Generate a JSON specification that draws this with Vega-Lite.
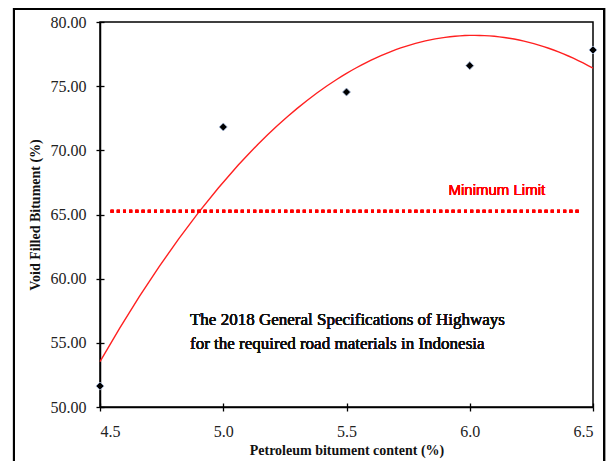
{
  "$schema": "https://vega.github.io/schema/vega-lite/v6.json",
  "width": 493,
  "height": 385,
  "autosize": {"type": "none"},
  "padding": {"left": 100, "top": 22, "right": 15, "bottom": 54},
  "background": "white",
  "config": {
    "view": {"stroke": "black", "strokeWidth": 1.5},
    "text": {"fontWeight": "normal"},
    "axis": {"grid": false, "domainColor": "black", "domainWidth": 1.5, "tickColor": "black", "tickWidth": 1.3,
      "labelFont": "Liberation Serif", "labelFontSize": 16, "labelColor": "#222", "labelFontWeight": "normal",
      "titleFont": "Liberation Serif", "titleFontWeight": "bold", "titleFontSize": 14, "titleColor": "#111"}
  },
  "data": {"values": [
    {"pbc": 4.5, "vfb": 51.63},
    {"pbc": 5.0, "vfb": 71.82},
    {"pbc": 5.5, "vfb": 74.54},
    {"pbc": 6.0, "vfb": 76.6},
    {"pbc": 6.5, "vfb": 77.82}
  ]},
  "resolve": {"axis": {"x": "independent", "y": "independent"}},
  "layer": [
    {
      "mark": {"type": "rect", "fill": null, "stroke": "black", "strokeWidth": 2, "clip": false},
      "encoding": {
        "x": {"datum": 4.151, "type": "quantitative", "scale": {"domain": [4.5, 6.5], "nice": false, "zero": false}, "axis": null},
        "x2": {"datum": 6.545},
        "y": {"datum": 81.01, "type": "quantitative", "scale": {"domain": [50, 80], "nice": false, "zero": false}, "axis": null},
        "y2": {"datum": 44}
      }
    },
    {
      "transform": [{"regression": "vfb", "on": "pbc", "method": "poly", "order": 2}],
      "mark": {"type": "line", "color": "#ff2020", "strokeWidth": 1.4},
      "encoding": {
        "x": {"field": "pbc", "type": "quantitative", "scale": {"domain": [4.5, 6.5], "nice": false, "zero": false},
          "axis": {"orient": "bottom", "values": [4.5, 5, 5.5, 6, 6.5], "labels": false, "domain": false, "title": null, "tickSize": -4}},
        "y": {"field": "vfb", "type": "quantitative", "scale": {"domain": [50, 80], "nice": false, "zero": false},
          "axis": {"orient": "left", "values": [50, 55, 60, 65, 70, 75, 80], "labels": false, "domain": false, "title": null, "tickSize": -4}}
      }
    },
    {
      "mark": {"type": "rule", "color": "#ff0000", "strokeWidth": 3, "strokeDash": [3, 3.2], "strokeCap": "butt"},
      "encoding": {
        "x": {"datum": 4.543, "type": "quantitative", "axis": null},
        "x2": {"datum": 6.447},
        "y": {"datum": 65.25, "type": "quantitative", "axis": null}
      }
    },
    {
      "mark": {"type": "point", "shape": "diamond", "filled": true, "color": "black", "size": 65, "opacity": 1, "stroke": "#a8bde0", "strokeWidth": 0.8},
      "encoding": {
        "x": {"field": "pbc", "type": "quantitative",
          "axis": {"orient": "bottom", "values": [4.5, 5, 5.5, 6, 6.5], "format": ".1f", "tickSize": 4, "labelPadding": 12, "titlePadding": 4,
            "labelFont": "Liberation Serif", "labelFontSize": 16, "titleFont": "Liberation Serif",
            "title": "Petroleum  bitument  content  (%)"}},
        "y": {"field": "vfb", "type": "quantitative",
          "axis": {"orient": "left", "values": [50, 55, 60, 65, 70, 75, 80], "format": ".2f", "tickSize": 4, "labelPadding": 10, "titlePadding": 8,
            "labelFont": "Liberation Serif", "labelFontSize": 16, "titleFont": "Liberation Serif",
            "title": "Void  Filled  Bitument  (%)"}}
      }
    },
    {
      "mark": {"type": "text", "text": "Minimum Limit", "font": "Liberation Sans", "fontSize": 15, "fontWeight": "normal", "color": "#ff0000", "align": "center", "baseline": "alphabetic"},
      "encoding": {
        "x": {"datum": 6.11, "type": "quantitative", "axis": null},
        "y": {"datum": 66.54, "type": "quantitative", "axis": null}
      }
    },
    {
      "mark": {"type": "text", "text": ["The 2018 General Specifications of Highways", "for the required road materials in Indonesia"], "font": "Liberation Serif", "fontSize": 17, "fontWeight": "normal", "lineHeight": 24, "color": "#111", "align": "left", "baseline": "alphabetic"},
      "encoding": {
        "x": {"datum": 4.865, "type": "quantitative", "axis": null},
        "y": {"datum": 56.4, "type": "quantitative", "axis": null}
      }
    }
  ]
}
